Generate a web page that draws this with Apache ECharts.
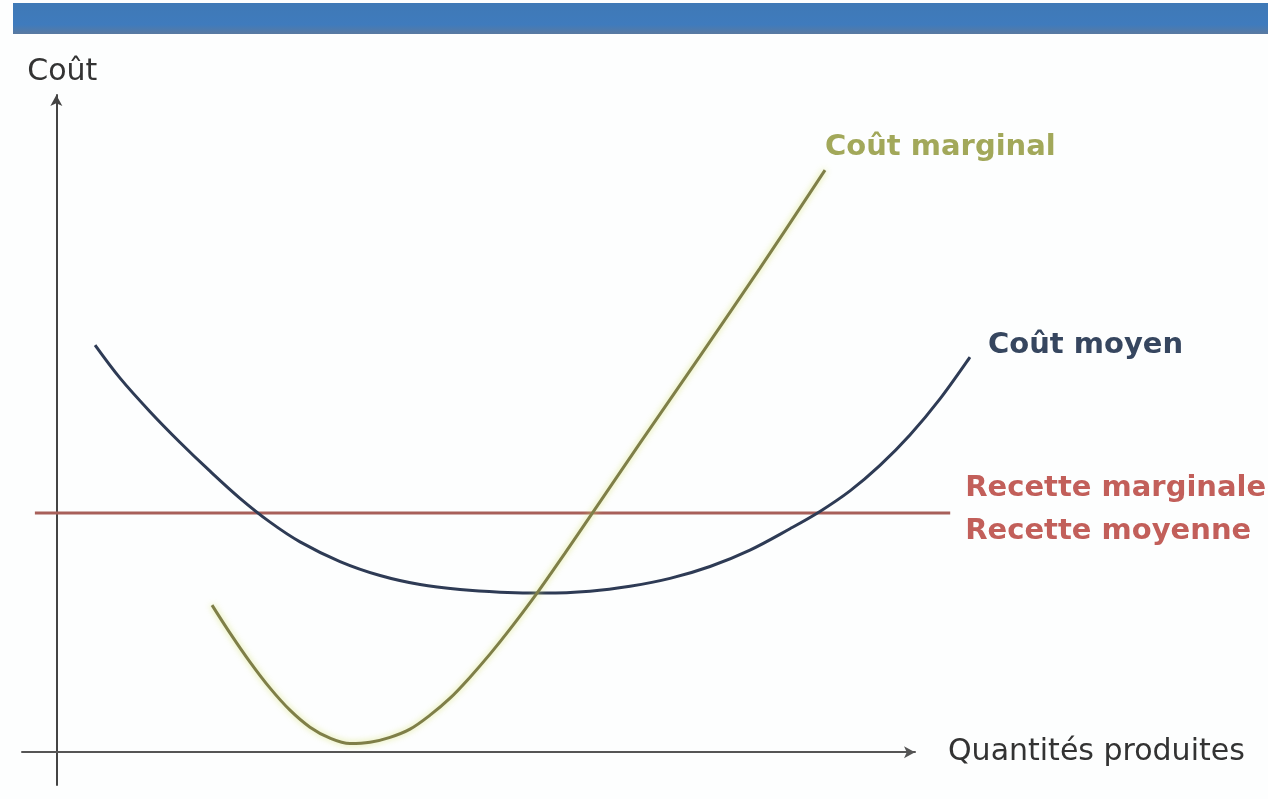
<!DOCTYPE html>
<html>
<head>
<meta charset="utf-8">
<script src="https://cdn.jsdelivr.net/npm/echarts@6/dist/echarts.min.js"></script>
<style>
html,body{margin:0;padding:0;background:#fdfefe;}
#chart{width:1268px;height:799px;}
</style>
</head>
<body>
<div id="chart"></div>
<script>
// Quantities (x) and costs (y)
const coutMoyenQ = [4.51, 7.42, 10.91, 14.41, 17.9, 21.39, 24.89, 28.38, 33.04, 37.7, 42.36, 47.02, 51.67,
  56.91, 62.15, 66.81, 71.47, 76.13, 80.78, 85.44, 88.93, 92.43, 95.92, 99.41, 102.91, 106.4];
const coutMoyenV = [49.55, 45.53, 41.45, 37.7, 34.2, 30.9, 28.0, 25.6, 23.2, 21.5, 20.4, 19.8, 19.48,
  19.36, 19.6, 20.2, 21.15, 22.6, 24.6, 27.2, 29.3, 31.8, 34.9, 38.6, 43.0, 48.09];

const coutMarginalQ = [18.13, 20.23, 22.56, 24.89, 27.21, 29.54, 31.87, 34.2, 36.53, 38.86, 41.19, 43.52,
  45.85, 48.18, 50.5, 52.83, 55.98, 59.24, 62.5, 67.97, 74.96, 81.95, 89.52];
const coutMarginalV = [17.9, 14.49, 10.96, 7.79, 5.11, 3.04, 1.7, 1.05, 1.2, 1.8, 2.8, 4.5,
  6.57, 9.13, 11.93, 14.97, 19.36, 24.23, 29.22, 37.62, 48.21, 58.92, 70.85];

const recetteQ = [-2.5, 104.1];
const recetteV = [29.1, 29.1];

const seriesNames = ['Coût moyen', 'Coût marginal', 'Recette marginale\nRecette moyenne'];
const axisNames = ['Quantités produites', 'Coût'];

const zip = (a, b) => a.map((v, i) => [v, b[i]]);

// axis ranges
const xMin = -4, xMax = 100, xMaxWide = 130;
const yMin = -4, yMax = 80;
const W = 1268, gLeft = 22, gRight = 353;
const axisWidth = W - gLeft - gRight;
const wideRight = W - gLeft - axisWidth * (xMaxWide - xMin) / (xMax - xMin);

const chart = echarts.init(document.getElementById('chart'));
const labelFont = {fontFamily: 'DejaVu Sans', fontWeight: 'bold', fontSize: 29};
const hiddenAxis = {axisLine: {show: false}, axisTick: {show: false}, axisLabel: {show: false}, splitLine: {show: false}};

chart.setOption({
  backgroundColor: '#fdfefe',
  animation: false,
  graphic: [{
    type: 'rect',
    shape: {x: 13, y: 3, width: 1255, height: 31},
    style: {
      fill: new echarts.graphic.LinearGradient(0, 0, 0, 1, [
        {offset: 0, color: '#3f79b6'},
        {offset: 0.7, color: '#3f7bbd'},
        {offset: 1, color: '#5a7aa0'}
      ])
    }
  }],
  grid: [
    {left: gLeft, right: gRight, top: 95, bottom: 14},
    {left: gLeft, right: wideRight, top: 95, bottom: 14}
  ],
  xAxis: [{
    type: 'value', min: xMin, max: xMax, gridIndex: 0,
    name: axisNames[0], nameLocation: 'end', nameGap: 33,
    nameTextStyle: {fontFamily: 'DejaVu Sans', fontSize: 30, color: '#333', padding: [0, 0, 6, 0]},
    axisLine: {show: true, onZero: true, symbol: ['none', 'arrow'], symbolSize: [9, 11],
      lineStyle: {color: '#555', width: 2}},
    axisTick: {show: false}, axisLabel: {show: false}, splitLine: {show: false}
  }, Object.assign({type: 'value', min: xMin, max: xMaxWide, gridIndex: 1}, hiddenAxis)],
  yAxis: [{
    type: 'value', min: yMin, max: yMax, gridIndex: 0,
    name: axisNames[1], nameLocation: 'end', nameGap: 8,
    nameTextStyle: {fontFamily: 'DejaVu Sans', fontSize: 30, color: '#333', padding: [0, 0, 0, 12]},
    axisLine: {show: true, onZero: true, symbol: ['none', 'arrow'], symbolSize: [9, 11],
      lineStyle: {color: '#444', width: 2}},
    axisTick: {show: false}, axisLabel: {show: false}, splitLine: {show: false}
  }, Object.assign({type: 'value', min: yMin, max: yMax, gridIndex: 1}, hiddenAxis)],
  series: [
    {
      name: seriesNames[2], type: 'line', data: zip(recetteQ, recetteV),
      xAxisIndex: 1, yAxisIndex: 1,
      showSymbol: false, clip: false,
      lineStyle: {color: '#a8605a', width: 3},
      endLabel: {show: true, formatter: seriesNames[2], distance: 15, offset: [0, -3],
        color: '#c25f5a', lineHeight: 43, ...labelFont}
    },
    {
      name: seriesNames[0], type: 'line', data: zip(coutMoyenQ, coutMoyenV),
      xAxisIndex: 1, yAxisIndex: 1,
      smooth: 0.35, showSymbol: false, clip: false,
      lineStyle: {color: '#2e3b55', width: 3},
      endLabel: {show: true, formatter: seriesNames[0], distance: 18, offset: [0, -12],
        color: '#36465f', ...labelFont}
    },
    {
      name: seriesNames[1], type: 'line', data: zip(coutMarginalQ, coutMarginalV),
      xAxisIndex: 1, yAxisIndex: 1,
      smooth: 0.35, showSymbol: false, clip: false,
      lineStyle: {color: '#7f7f48', width: 3, shadowColor: 'rgba(215,225,110,0.8)', shadowBlur: 6},
      endLabel: {show: true, formatter: seriesNames[1], distance: 0, offset: [0, -23],
        color: '#a2a85a', ...labelFont}
    }
  ]
});
</script>
</body>
</html>
